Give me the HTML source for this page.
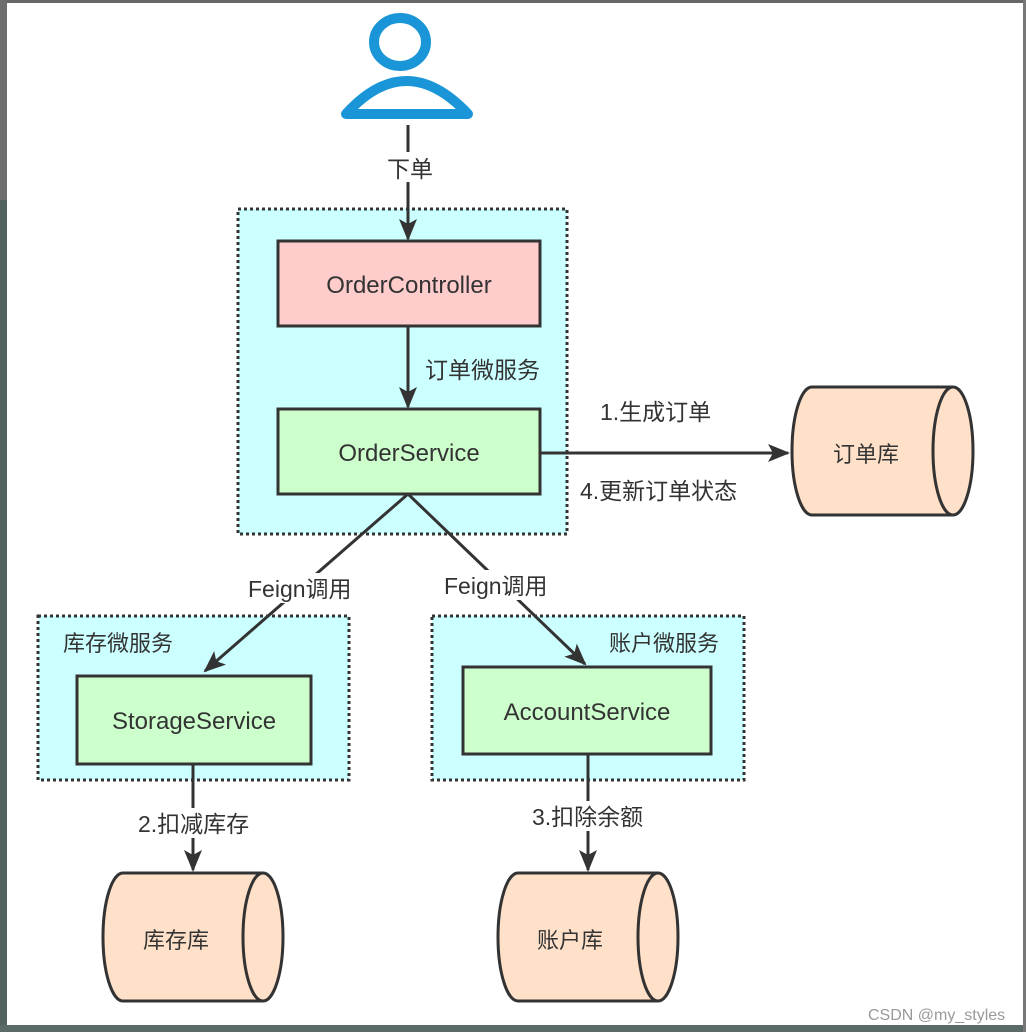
<!DOCTYPE html>
<html><head><meta charset="utf-8"><style>
body{margin:0;width:1026px;height:1032px;overflow:hidden;background:#fff}
svg{display:block}
text{font-family:"Liberation Sans","Noto Sans CJK SC",sans-serif;fill:#333}
</style></head><body>
<svg width="1026" height="1032" viewBox="0 0 1026 1032" xmlns="http://www.w3.org/2000/svg">
<defs>
<marker id="b" markerWidth="22" markerHeight="18" refX="20" refY="9" orient="auto" markerUnits="userSpaceOnUse"><path d="M0,0 L22,9 L0,18 L5,9z" fill="#333"/></marker></defs>
<rect width="1026" height="1032" fill="#fff"/>
<rect x="0" y="0" width="1026" height="3" fill="#666"/>
<rect x="0" y="0" width="7" height="200" fill="#6e6e6e"/>
<rect x="0" y="200" width="7" height="832" fill="#52625f"/>
<rect x="0" y="1025" width="1026" height="7" fill="#5a6a66"/>
<rect x="1023" y="0" width="3" height="1032" fill="#777"/>
<!-- user icon -->
<ellipse cx="400" cy="42" rx="26" ry="24" fill="none" stroke="#1a96d8" stroke-width="10"/>
<path d="M346,114 Q406,48 468,114 Z" fill="none" stroke="#1a96d8" stroke-width="10" stroke-linejoin="round"/>
<!-- containers -->
<rect x="238" y="209" width="329" height="325" fill="#ccffff" stroke="#333" stroke-width="3" stroke-dasharray="3 3"/>
<rect x="38" y="616" width="311" height="164" fill="#ccffff" stroke="#333" stroke-width="3" stroke-dasharray="3 3"/>
<rect x="432" y="616" width="312" height="164" fill="#ccffff" stroke="#333" stroke-width="3" stroke-dasharray="3 3"/>
<text x="63" y="651" font-size="22">库存微服务</text>
<text x="609" y="651" font-size="22">账户微服务</text>
<rect x="278" y="241" width="262" height="85" fill="#ffcccc" stroke="#333" stroke-width="3"/>
<text x="409" y="293" font-size="24" text-anchor="middle">OrderController</text>
<rect x="278" y="409" width="262" height="85" fill="#ccffcc" stroke="#333" stroke-width="3"/>
<text x="409" y="461" font-size="24" text-anchor="middle">OrderService</text>
<rect x="77" y="676" width="234" height="88" fill="#ccffcc" stroke="#333" stroke-width="3"/>
<text x="194" y="729" font-size="24" text-anchor="middle">StorageService</text>
<rect x="463" y="667" width="248" height="87" fill="#ccffcc" stroke="#333" stroke-width="3"/>
<text x="587" y="720" font-size="24" text-anchor="middle">AccountService</text>
<!-- arrows -->
<line x1="408" y1="125" x2="408" y2="239" stroke="#333" stroke-width="3" marker-end="url(#b)"/>
<rect x="384" y="152" width="52" height="30" fill="#fff"/>
<text x="410" y="177" font-size="23" text-anchor="middle">下单</text>
<line x1="408" y1="326" x2="408" y2="407" stroke="#333" stroke-width="3" marker-end="url(#b)"/>
<text x="425" y="378" font-size="23">订单微服务</text>
<line x1="540" y1="453" x2="788" y2="453" stroke="#333" stroke-width="3" marker-end="url(#b)"/>
<text x="600" y="420" font-size="23">1.生成订单</text>
<text x="580" y="499" font-size="23">4.更新订单状态</text>
<line x1="408" y1="494" x2="205" y2="671" stroke="#333" stroke-width="3" marker-end="url(#b)"/>
<line x1="408" y1="494" x2="585" y2="664" stroke="#333" stroke-width="3" marker-end="url(#b)"/>
<rect x="246" y="573" width="114" height="30" fill="#fff"/>
<text x="248" y="597" font-size="23">Feign调用</text>
<rect x="442" y="570" width="114" height="30" fill="#fff"/>
<text x="444" y="594" font-size="23">Feign调用</text>
<line x1="193" y1="764" x2="193" y2="870" stroke="#333" stroke-width="3" marker-end="url(#b)"/>
<rect x="136" y="808" width="122" height="30" fill="#fff"/>
<text x="138" y="832" font-size="23">2.扣减库存</text>
<line x1="588" y1="754" x2="588" y2="870" stroke="#333" stroke-width="3" marker-end="url(#b)"/>
<rect x="530" y="801" width="122" height="30" fill="#fff"/>
<text x="532" y="825" font-size="23">3.扣除余额</text>
<!-- cylinders -->
<g stroke="#333" stroke-width="3" fill="#ffe0c8">
<path d="M812,387 H953 A20,64 0 0 1 953,515 H812 A20,64 0 0 1 812,387 Z"/>
<path d="M953,387 A20,64 0 0 0 953,515" fill="none"/>
<path d="M123,873 H263 A20,64 0 0 1 263,1001 H123 A20,64 0 0 1 123,873 Z"/>
<path d="M263,873 A20,64 0 0 0 263,1001" fill="none"/>
<path d="M518,873 H658 A20,64 0 0 1 658,1001 H518 A20,64 0 0 1 518,873 Z"/>
<path d="M658,873 A20,64 0 0 0 658,1001" fill="none"/>
</g>
<text x="866" y="462" font-size="22" text-anchor="middle">订单库</text>
<text x="176" y="948" font-size="22" text-anchor="middle">库存库</text>
<text x="570" y="948" font-size="22" text-anchor="middle">账户库</text>
<text x="868" y="1020" font-size="16" style="fill:#999">CSDN @my_styles</text>
</svg>
</body></html>
